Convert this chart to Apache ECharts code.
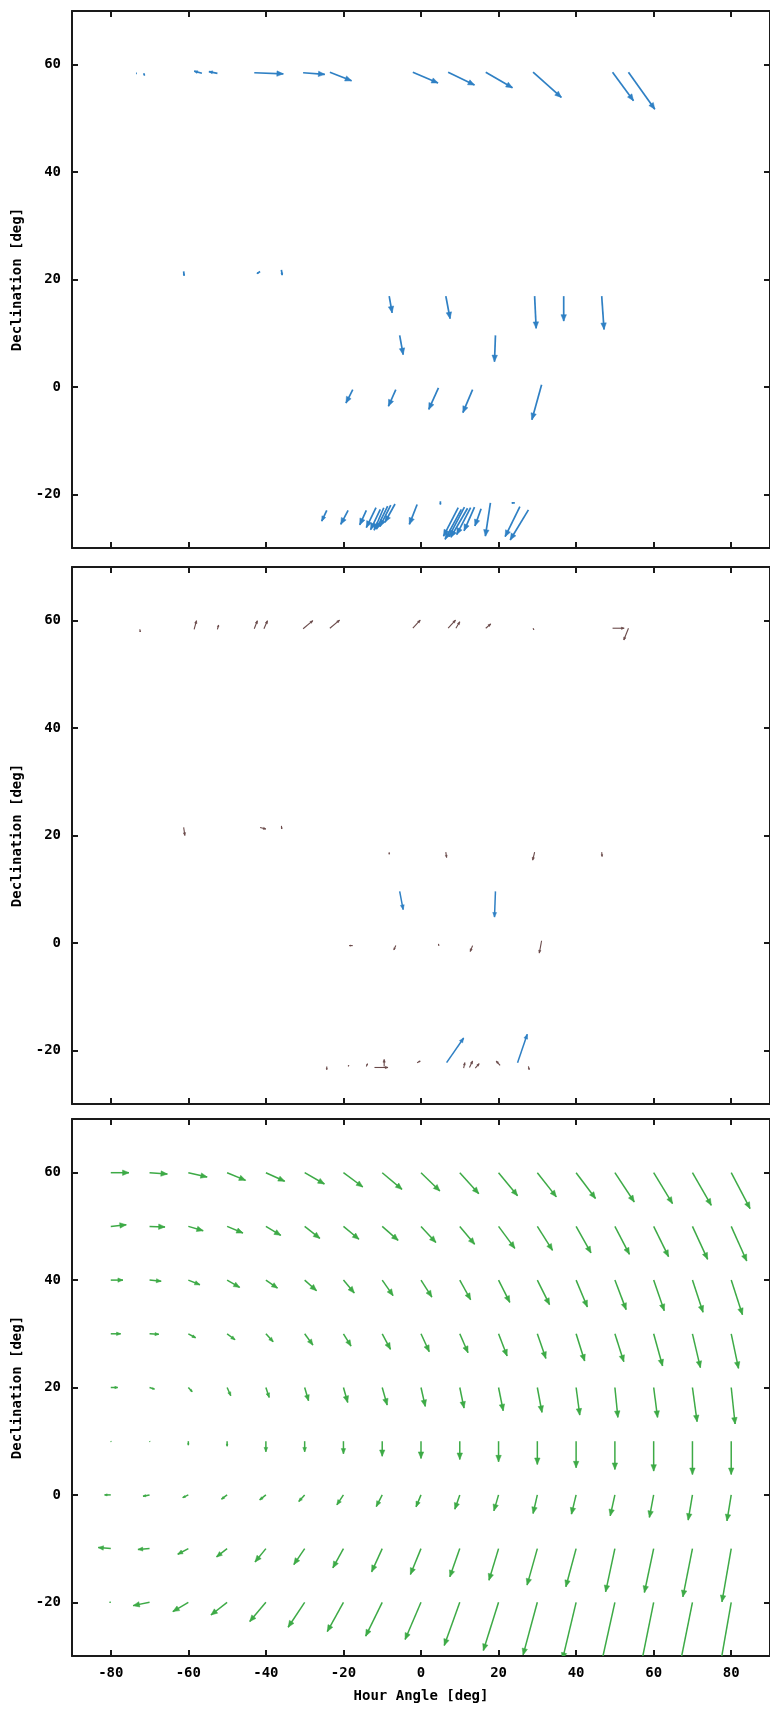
<!DOCTYPE html>
<html>
<head>
<meta charset="utf-8">
<script src="https://cdn.jsdelivr.net/npm/echarts@6/dist/echarts.min.js"></script>
</head>
<body style="margin:0;background:#fff">
<div id="container" style="width:770px;height:1710px"></div>
<script>
// axis ticks
var haTicks = [-80, -60, -40, -20, 0, 20, 40, 60, 80];
var decTicks = [-20, 0, 20, 40, 60];

// panel 1: measured offsets (hour angle, declination, dHA, dDec)
var obsHA  = [-73.5, -71.5, -56.5, -52.5, -43, -30.4, -23.5, -2.1, 7.0, 16.7, 28.9, 49.4, 53.5,
              -61.2, -41.5, -36,
              -8.2, 6.4, 29.3, 36.8, 46.6,
              -5.5, 19.2,
              -17.6, -6.5, 4.5, 13.3, 31.1,
              -24.3, -18.8, -14.1, -11.6, -10.5, -9.6, -8.6, -7.8, -6.7, -1.0, 5.0,
              9.6, 10.4, 11.2, 12.0, 12.8, 13.8, 15.5, 17.9, 24.2, 25.5, 27.7];
var obsDec = [58.4, 58.4, 58.4, 58.4, 58.5, 58.5, 58.6, 58.6, 58.6, 58.6, 58.6, 58.6, 58.6,
              21.5, 21.5, 21.8,
              16.9, 16.9, 16.9, 16.9, 16.9,
              9.6, 9.6,
              -0.5, -0.5, -0.2, -0.5, 0.4,
              -23.0, -23.0, -23.0, -22.5, -22.8, -22.5, -22.2, -22.0, -21.8, -21.9, -21.3,
              -22.5, -22.8, -22.4, -22.6, -22.5, -22.4, -22.7, -21.6, -21.6, -22.3, -22.9];
var obsDHA = [0.2, 0.2, -2.0, -2.2, 7.5, 5.6, 5.6, 6.5, 6.8, 6.9, 7.3, 5.4, 6.8,
              0.1, -0.8, 0.2,
              0.75, 1.1, 0.4, 0.0, 0.6,
              0.9, -0.25,
              -1.75, -1.9, -2.5, -2.5, -2.5,
              -1.3, -1.9, -1.7, -2.5, -2.5, -2.5, -2.9, -2.8, -2.6, -2.0, 0.0,
              -3.8, -4.2, -4.0, -4.3, -3.6, -2.7, -1.6, -1.3, -0.8, -3.8, -4.7];
var obsDDec = [0.0, -0.4, 0.4, 0.3, -0.2, -0.3, -1.6, -2.0, -2.4, -2.9, -4.7, -5.3, -6.9,
               -0.8, -0.4, -1.0,
               -3.1, -4.2, -6.0, -4.65, -6.2,
               -3.6, -4.9,
               -2.5, -3.1, -4.0, -4.3, -6.5,
               -2.0, -2.6, -2.7, -3.7, -3.8, -4.2, -4.3, -4.0, -3.4, -3.7, -0.6,
               -5.3, -5.6, -5.5, -5.4, -5.0, -4.4, -3.2, -6.2, 0.0, -5.6, -5.6];

// panel 2: residuals after the fit
var resHA  = [-72.5, -58.5, -52.5, -43, -40.5, -30.4, -23.5, -2.1, 7.0, 9.0, 16.7, 28.9, 49.4, 53.5,
              -61.2, -41.5, -36,
              -8.2, 6.4, 29.3, 46.6,
              -17.6, -6.5, 4.5, 13.3, 31.1,
              -24.3, -18.8, -14.1, -12.0, -9.5, -1.0, 11.0, 12.5, 14.0, 20.4, 27.7];
var resDec = [58.4, 58.4, 58.4, 58.5, 58.5, 58.5, 58.6, 58.6, 58.6, 58.6, 58.6, 58.6, 58.6, 58.6,
              21.5, 21.5, 21.8,
              16.9, 16.9, 16.9, 16.9,
              -0.5, -0.5, -0.2, -0.5, 0.4,
              -23.0, -23.0, -23.0, -23.2, -23.0, -22.3, -23.3, -23.2, -23.3, -22.8, -23.0];
var resDHA = [0.1, 0.6, 0.3, 0.8, 0.9, 2.5, 2.5, 1.9, 1.9, 1.0, 1.3, 0.2, 3.0, -1.2,
              0.3, 1.5, 0.1,
              0.0, 0.2, -0.5, 0.1,
              -0.9, -0.5, 0.1, -0.6, -0.6,
              0.0, 0.2, 0.3, 3.5, 0.0, 0.8, 0.3, 0.8, 1.0, -1.0, 0.2];
var resDDec = [-0.5, 1.6, 0.8, 1.5, 1.5, 1.5, 1.5, 1.5, 1.5, 1.2, 0.8, -0.3, 0.0, -2.2,
               -1.5, -0.3, -0.6,
               -0.4, -1.0, -1.5, -0.8,
               0.0, -0.8, -0.3, -1.1, -2.3,
               -0.6, 0.2, 0.5, 0.0, 1.3, 0.3, 1.0, 1.2, 0.8, 0.8, -0.6];
// points shown in full colour in panel 2
var keptHA   = [-5.5, 19.2, 6.6, 24.9];
var keptDec  = [9.6, 9.6, -22.3, -22.3];
var keptDHA  = [0.9, -0.25, 4.4, 2.5];
var keptDDec = [-3.4, -4.8, 4.6, 5.3];

// panel 3: model on a regular grid
var gridHA = [-80, -70, -60, -50, -40, -30, -20, -10, 0, 10, 20, 30, 40, 50, 60, 70, 80];
var gridDec = [60, 50, 40, 30, 20, 10, 0, -10, -20];
var modelDHA = [
  [4.7, 4.6, 4.86, 4.77, 4.86, 5.1, 5.0, 5.1, 4.86, 4.9, 4.9, 4.9, 5.0, 5.0, 4.86, 4.86, 4.86],
  [4.0, 4.0, 3.84, 4.1, 3.84, 3.92, 4.0, 4.1, 3.84, 3.84, 4.2, 3.92, 3.84, 3.75, 3.84, 3.92, 4.0],
  [3.15, 3.0, 3.0, 3.24, 3.0, 3.07, 2.8, 2.8, 2.8, 2.8, 2.9, 3.15, 2.9, 2.9, 2.73, 2.73, 2.9],
  [2.56, 2.4, 1.88, 2.05, 1.88, 2.13, 1.96, 2.13, 2.13, 2.13, 2.2, 2.2, 2.2, 2.3, 2.3, 2.05, 1.88],
  [1.8, 1.28, 1.0, 0.94, 0.85, 1.0, 1.1, 1.28, 1.1, 1.1, 1.2, 1.2, 0.94, 0.77, 1.0, 1.2, 1.0],
  [0.1, 0.1, 0, 0, 0, 0, 0, 0, 0, 0, 0, 0, 0, 0, 0, 0, 0],
  [-1.6, -1.7, -1.45, -1.45, -1.6, -1.53, -1.7, -1.53, -1.28, -1.28, -1.2, -1.1, -1.2, -1.2, -1.1, -1.1, -1.1],
  [-3.24, -3.0, -2.73, -2.73, -2.8, -2.8, -2.73, -2.73, -2.73, -2.56, -2.47, -2.64, -2.64, -2.39, -2.39, -2.47, -2.39],
  [-0.3, -4.26, -4.0, -4.17, -4.17, -4.26, -4.17, -4.26, -4.1, -4.0, -3.92, -3.67, -3.5, -3.47, -3.36, -3.5, -3.2]
];
var modelDDec = [
  [0, -0.25, -0.8, -1.42, -1.6, -2.1, -2.66, -3.1, -3.4, -3.9, -4.3, -4.5, -4.8, -5.45, -5.75, -6.07, -6.7],
  [0.3, -0.1, -0.8, -1.24, -1.67, -2.23, -2.4, -2.6, -3.0, -3.34, -4.1, -4.46, -4.95, -5.2, -5.63, -6.13, -6.44],
  [0, -0.2, -0.87, -1.36, -1.49, -1.98, -2.41, -2.9, -3.16, -3.66, -4.15, -4.58, -5.0, -5.5, -5.7, -6.0, -6.44],
  [0, -0.1, -0.74, -1.11, -1.49, -2.1, -2.29, -2.9, -3.34, -3.53, -4.15, -4.58, -5.08, -5.2, -6.0, -6.3, -6.44],
  [0, -0.3, -0.8, -1.55, -1.86, -2.48, -2.8, -3.28, -3.53, -3.84, -4.33, -4.64, -5.14, -5.57, -5.57, -6.37, -6.8],
  [-0.1, -0.1, -0.74, -0.93, -1.98, -1.98, -2.35, -2.8, -3.2, -3.4, -3.84, -4.33, -4.95, -5.26, -5.57, -6.2, -6.2],
  [0, -0.25, -0.5, -0.8, -0.93, -1.24, -1.86, -2.17, -2.23, -2.66, -2.97, -3.47, -3.59, -3.9, -4.2, -4.7, -4.83],
  [0.2, -0.15, -1.05, -1.55, -2.48, -2.97, -3.59, -4.33, -4.83, -5.26, -5.9, -6.8, -7.1, -8.05, -8.17, -8.98, -9.9],
  [0, -0.62, -1.73, -2.36, -3.59, -4.64, -5.45, -6.3, -6.93, -8.05, -8.98, -9.8, -10.6, -11.3, -12.0, -12.6, -13.2]
];

function zip(a, b, c, d) {
    return a.map(function (v, i) { return [v, b[i], c[i], d[i]]; });
}
var modelData = [];
gridDec.forEach(function (dec, r) {
    gridHA.forEach(function (ha, c) {
        modelData.push([ha, dec, modelDHA[r][c], modelDDec[r][c]]);
    });
});

function arrow(color, width, head) {
    return function (params, api) {
        var x = api.value(0), y = api.value(1);
        var p0 = api.coord([x, y]);
        var p1 = api.coord([x + api.value(2), y + api.value(3)]);
        var ddx = p1[0] - p0[0], ddy = p1[1] - p0[1];
        var len = Math.sqrt(ddx * ddx + ddy * ddy);
        var ang = Math.atan2(ddy, ddx);
        var h = Math.min(head, len * 0.45);
        var q1 = [p1[0] - h * Math.cos(ang - 0.4), p1[1] - h * Math.sin(ang - 0.4)];
        var q2 = [p1[0] - h * Math.cos(ang + 0.4), p1[1] - h * Math.sin(ang + 0.4)];
        return {
            type: 'group',
            children: [{
                type: 'line',
                shape: {x1: p0[0], y1: p0[1], x2: p1[0], y2: p1[1]},
                style: {stroke: color, lineWidth: width}
            }, {
                type: 'polygon',
                shape: {points: [p1, q1, q2]},
                style: {fill: color, stroke: color, lineWidth: 0.5}
            }]
        };
    };
}

var labelFont = {fontFamily: 'DejaVu Sans Mono', fontWeight: 'bold', fontSize: 14, color: '#000'};
var tops = [11, 567, 1119];
var axisLine = {show: true, onZero: false, lineStyle: {color: '#1a1a1a', width: 2}};
var tickStyle = {color: '#1a1a1a', width: 2};

var grids = [], xAxes = [], yAxes = [];
tops.forEach(function (t, i) {
    grids.push({left: 72, right: -6, top: t, height: 537});
});
// bottom x axes 0..2, top x axes 3..5
tops.forEach(function (t, i) {
    xAxes.push({
        gridIndex: i, type: 'value', min: -90, max: 90, position: 'bottom',
        axisLine: axisLine,
        axisTick: {inside: true, length: 6, customValues: haTicks, lineStyle: tickStyle},
        axisLabel: Object.assign({show: i === 2, margin: 10, customValues: haTicks}, labelFont),
        splitLine: {show: false},
        name: i === 2 ? 'Hour Angle [deg]' : '',
        nameLocation: 'middle', nameGap: 33,
        nameTextStyle: labelFont
    });
});
tops.forEach(function (t, i) {
    xAxes.push({
        gridIndex: i, type: 'value', min: -90, max: 90, position: 'top',
        axisLine: axisLine,
        axisTick: {inside: true, length: 6, customValues: haTicks, lineStyle: tickStyle},
        axisLabel: {show: false},
        splitLine: {show: false}
    });
});
tops.forEach(function (t, i) {
    yAxes.push({
        gridIndex: i, type: 'value', min: -30, max: 70, position: 'left',
        axisLine: axisLine,
        axisTick: {inside: true, length: 6, customValues: decTicks, lineStyle: tickStyle},
        axisLabel: Object.assign({margin: 11, customValues: decTicks}, labelFont),
        splitLine: {show: false},
        name: 'Declination [deg]',
        nameLocation: 'middle', nameGap: 47, nameRotate: 90,
        nameTextStyle: labelFont
    });
});
tops.forEach(function (t, i) {
    yAxes.push({
        gridIndex: i, type: 'value', min: -30, max: 70, position: 'right',
        axisLine: axisLine,
        axisTick: {inside: true, length: 6, customValues: decTicks, lineStyle: tickStyle},
        axisLabel: {show: false},
        splitLine: {show: false}
    });
});

var blue = '#2f80c4', green = '#3daa46', dark = '#6a4a4a';

var myChart = echarts.init(document.getElementById('container'));
var option = {
    backgroundColor: '#fff',
    animation: false,
    grid: grids,
    xAxis: xAxes,
    yAxis: yAxes,
    series: [{
        type: 'custom', xAxisIndex: 0, yAxisIndex: 0, clip: true,
        renderItem: arrow(blue, 1.7, 7),
        data: zip(obsHA, obsDec, obsDHA, obsDDec)
    }, {
        type: 'custom', xAxisIndex: 1, yAxisIndex: 1, clip: true,
        renderItem: arrow(dark, 1.1, 3),
        data: zip(resHA, resDec, resDHA, resDDec)
    }, {
        type: 'custom', xAxisIndex: 1, yAxisIndex: 1, clip: true,
        renderItem: arrow(blue, 1.5, 5),
        data: zip(keptHA, keptDec, keptDHA, keptDDec)
    }, {
        type: 'custom', xAxisIndex: 2, yAxisIndex: 2, clip: true,
        renderItem: arrow(green, 1.5, 7),
        data: modelData
    }]
};
myChart.setOption(option);
</script>
</body>
</html>
